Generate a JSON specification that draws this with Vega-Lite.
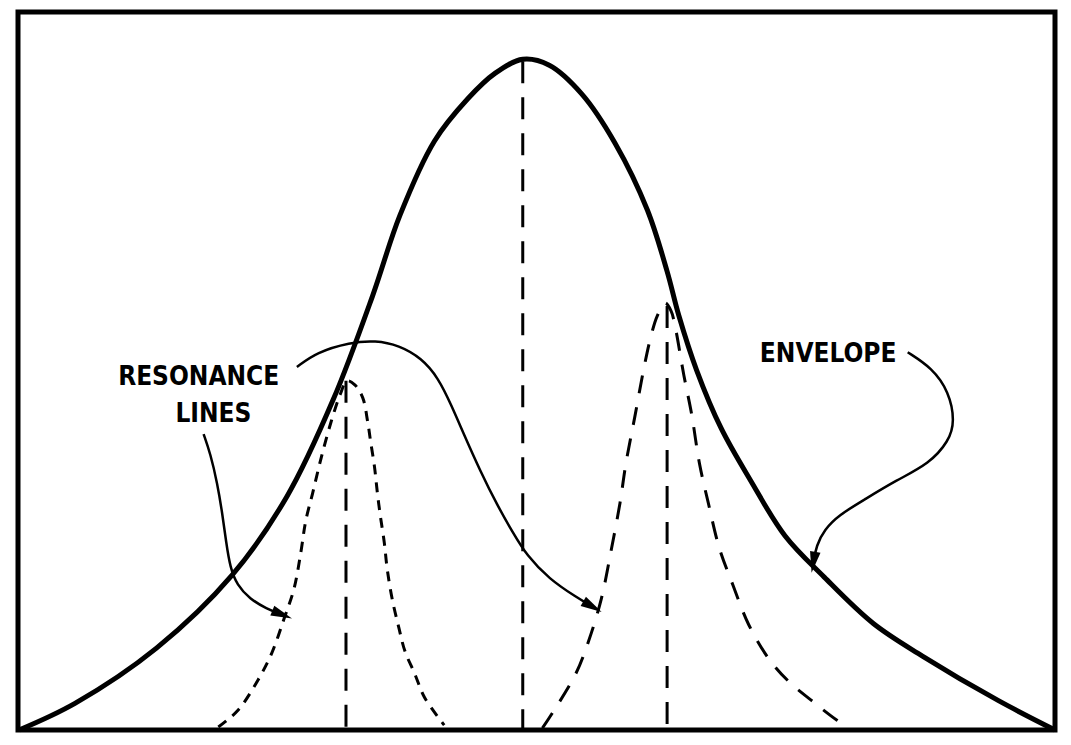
{
  "$schema": "https://vega.github.io/schema/vega-lite/v6.json",
  "autosize": {"type": "fit", "contains": "padding"},
  "width": 1071,
  "height": 745,
  "padding": {"left": 9, "top": 12, "right": 6, "bottom": 5},
  "background": "white",
  "config": {"view": {"stroke": "black", "strokeWidth": 5}},
  "datasets": {
    "envelope": [
      {"f": 10, "a": 0}, {"f": 67, "a": 27}, {"f": 150, "a": 83}, {"f": 227, "a": 157}, {"f": 283, "a": 237},
      {"f": 330, "a": 335}, {"f": 370, "a": 440}, {"f": 398, "a": 522}, {"f": 433, "a": 597}, {"f": 467, "a": 640}, {"f": 495, "a": 666},
      {"f": 523, "a": 680}, {"f": 550, "a": 674}, {"f": 583, "a": 645}, {"f": 617, "a": 595}, {"f": 650, "a": 527},
      {"f": 670, "a": 465}, {"f": 682, "a": 420}, {"f": 700, "a": 365}, {"f": 725, "a": 306}, {"f": 755, "a": 253},
      {"f": 790, "a": 197}, {"f": 830, "a": 155}, {"f": 880, "a": 108}, {"f": 930, "a": 75}, {"f": 1007, "a": 30},
      {"f": 1065, "a": 0}
    ],
    "resLeft": [
      {"f": 213, "a": 3}, {"f": 233, "a": 20}, {"f": 253, "a": 50}, {"f": 267, "a": 77}, {"f": 280, "a": 113},
      {"f": 290, "a": 143}, {"f": 297, "a": 180}, {"f": 302, "a": 212}, {"f": 309, "a": 240}, {"f": 318, "a": 277},
      {"f": 328, "a": 313}, {"f": 337, "a": 340}, {"f": 344, "a": 354}, {"f": 352, "a": 350}, {"f": 360, "a": 337},
      {"f": 365, "a": 313}, {"f": 368, "a": 293}, {"f": 372, "a": 267}, {"f": 375, "a": 240}, {"f": 378, "a": 217},
      {"f": 382, "a": 190}, {"f": 385, "a": 163}, {"f": 390, "a": 133}, {"f": 397, "a": 103}, {"f": 403, "a": 80},
      {"f": 413, "a": 57}, {"f": 423, "a": 33}, {"f": 443, "a": 5}
    ],
    "resRight": [
      {"f": 543, "a": 2}, {"f": 553, "a": 17}, {"f": 577, "a": 57}, {"f": 590, "a": 90}, {"f": 603, "a": 133},
      {"f": 613, "a": 182}, {"f": 622, "a": 230}, {"f": 628, "a": 270}, {"f": 637, "a": 317}, {"f": 647, "a": 370},
      {"f": 653, "a": 397}, {"f": 660, "a": 420}, {"f": 668, "a": 433}, {"f": 674, "a": 425}, {"f": 678, "a": 410},
      {"f": 687, "a": 360}, {"f": 695, "a": 320}, {"f": 703, "a": 270}, {"f": 712, "a": 230}, {"f": 723, "a": 185},
      {"f": 737, "a": 147}, {"f": 753, "a": 107}, {"f": 773, "a": 73}, {"f": 793, "a": 50}, {"f": 817, "a": 30},
      {"f": 843, "a": 10}, {"f": 855, "a": 3}
    ],
    "centres": [
      {"f": 343, "top": 354},
      {"f": 523, "top": 678},
      {"f": 670, "top": 430}
    ],
    "arrows": [
      {"id": "res1", "f": 198, "a": 300}, {"id": "res1", "f": 205, "a": 280}, {"id": "res1", "f": 212, "a": 250},
      {"id": "res1", "f": 217, "a": 220}, {"id": "res1", "f": 221, "a": 190}, {"id": "res1", "f": 225, "a": 165},
      {"id": "res1", "f": 232, "a": 147}, {"id": "res1", "f": 245, "a": 133}, {"id": "res1", "f": 262, "a": 123},
      {"id": "res1", "f": 278, "a": 117},
      {"id": "res2", "f": 293, "a": 368}, {"id": "res2", "f": 313, "a": 383}, {"id": "res2", "f": 347, "a": 393},
      {"id": "res2", "f": 373, "a": 395}, {"id": "res2", "f": 397, "a": 390}, {"id": "res2", "f": 420, "a": 377},
      {"id": "res2", "f": 437, "a": 357}, {"id": "res2", "f": 450, "a": 330}, {"id": "res2", "f": 463, "a": 300},
      {"id": "res2", "f": 480, "a": 262}, {"id": "res2", "f": 497, "a": 228}, {"id": "res2", "f": 513, "a": 200},
      {"id": "res2", "f": 527, "a": 177}, {"id": "res2", "f": 550, "a": 153}, {"id": "res2", "f": 577, "a": 135},
      {"id": "res2", "f": 594, "a": 125},
      {"id": "env", "f": 915, "a": 383}, {"id": "env", "f": 940, "a": 367}, {"id": "env", "f": 957, "a": 343},
      {"id": "env", "f": 963, "a": 313}, {"id": "env", "f": 957, "a": 293}, {"id": "env", "f": 937, "a": 270},
      {"id": "env", "f": 903, "a": 253}, {"id": "env", "f": 870, "a": 233}, {"id": "env", "f": 845, "a": 218},
      {"id": "env", "f": 830, "a": 203}, {"id": "env", "f": 822, "a": 187}, {"id": "env", "f": 819, "a": 170}
    ],
    "heads": [
      {"id": "res1", "f": 278, "a": 117},
      {"id": "res2", "f": 594, "a": 125},
      {"id": "env", "f": 819, "a": 170}
    ],
    "labels": [
      {"text": "RESONANCE", "f": 193, "a": 358},
      {"text": "LINES", "f": 208, "a": 320},
      {"text": "ENVELOPE", "f": 834, "a": 381}
    ]
  },
  "encoding": {
    "x": {"field": "f", "type": "quantitative", "scale": {"domain": [9, 1065], "nice": false, "zero": false}, "axis": null},
    "y": {"field": "a", "type": "quantitative", "scale": {"domain": [0, 728], "nice": false, "zero": false}, "axis": null}
  },
  "layer": [
    {
      "data": {"name": "centres"},
      "mark": {"type": "rule", "color": "black", "strokeWidth": 3, "strokeDash": [22, 14]},
      "encoding": {
        "y": {"field": "top", "type": "quantitative"},
        "y2": {"datum": 0}
      }
    },
    {
      "data": {"name": "resLeft"},
      "mark": {"type": "line", "color": "black", "strokeWidth": 3, "strokeDash": [10, 8], "interpolate": "catmull-rom"},
      "encoding": {"order": {"value": null}}
    },
    {
      "data": {"name": "resRight"},
      "mark": {"type": "line", "color": "black", "strokeWidth": 3, "strokeDash": [18, 14], "interpolate": "catmull-rom"},
      "encoding": {"order": {"value": null}}
    },
    {
      "data": {"name": "envelope"},
      "mark": {"type": "line", "color": "black", "strokeWidth": 5, "interpolate": "catmull-rom"},
      "encoding": {"order": {"value": null}}
    },
    {
      "data": {"name": "arrows"},
      "mark": {"type": "line", "color": "black", "strokeWidth": 2.5, "interpolate": "basis"},
      "encoding": {
        "detail": {"field": "id"},
        "order": {"value": null}
      }
    },
    {
      "data": {"name": "heads"},
      "transform": [{"filter": "datum.id === 'res1'"}],
      "mark": {"type": "point", "shape": "M-1,-0.5L1,0L-1,0.5Z", "filled": true, "color": "black", "opacity": 1, "size": 450, "angle": 22}
    },
    {
      "data": {"name": "heads"},
      "transform": [{"filter": "datum.id === 'res2'"}],
      "mark": {"type": "point", "shape": "M-1,-0.5L1,0L-1,0.5Z", "filled": true, "color": "black", "opacity": 1, "size": 450, "angle": 30}
    },
    {
      "data": {"name": "heads"},
      "transform": [{"filter": "datum.id === 'env'"}],
      "mark": {"type": "point", "shape": "M-1,-0.5L1,0L-1,0.5Z", "filled": true, "color": "black", "opacity": 1, "size": 450, "angle": 100}
    },
    {
      "data": {"name": "labels"},
      "mark": {"type": "text", "font": "DejaVu Sans Condensed", "fontWeight": "bold", "fontSize": 26, "align": "center", "baseline": "middle", "color": "black"},
      "encoding": {"text": {"field": "text"}}
    }
  ]
}
